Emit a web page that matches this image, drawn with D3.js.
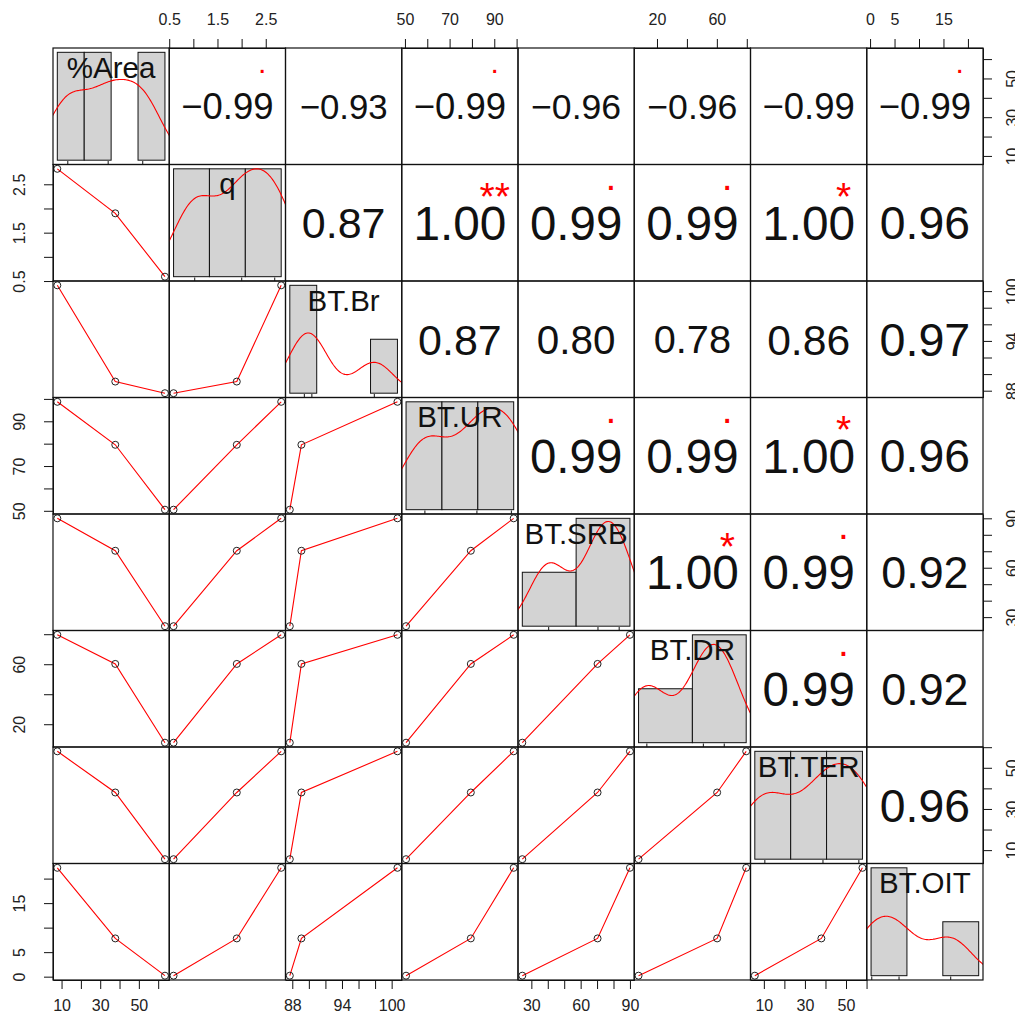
<!DOCTYPE html>
<html>
<head>
<meta charset="utf-8">
<script src="https://d3js.org/d3.v7.min.js"></script>
<style>
  body { margin: 0; background: #fff; }
</style>
</head>
<body>
<div id="my_dataviz"></div>
<script>
// variable names and the three observations of each
var varNames = ["%Area", "q", "BT.Br", "BT.UR", "BT.SRB", "BT.DR", "BT.TER", "BT.OIT"];
var pctArea = [63.5, 37.8, 7.8];
var q = [0.59, 1.9, 2.82];
var btBr = [87.7, 89.1, 100.7];
var btUR = [50.5, 79.5, 98.7];
var btSRB = [24.5, 70.3, 90];
var btDR = [7.7, 60.2, 79.6];
var btTER = [5.6, 38, 58];
var btOIT = [0.2, 7.8, 22.2];

// histogram breaks of the diagonal panels
var histBreaks = [[0, 20, 40, 60, 80], [0, 1, 2, 3], [85, 90, 95, 100, 105], [40, 60, 80, 100],
                  [0, 50, 100], [0, 50, 100], [0, 20, 40, 60], [0, 10, 20, 30]];

// axis ticks, and the ticks that get a label
var axisTicks = [[10, 20, 30, 40, 50, 60], [0.5, 1, 1.5, 2, 2.5], [88, 90, 92, 94, 96, 98, 100],
                 [50, 60, 70, 80, 90, 100], [30, 40, 50, 60, 70, 80, 90], [20, 40, 60, 80],
                 [10, 20, 30, 40, 50, 60], [0, 5, 10, 15, 20]];
var axisLabels = [[10, 30, 50], [0.5, 1.5, 2.5], [88, 94, 100], [50, 70, 90], [30, 60, 90],
                  [20, 60], [10, 30, 50], [0, 5, 15]];

// correlations shown in the upper panels (row by row) and their stars
var corText = [
  ["\u22120.99", "\u22120.93", "\u22120.99", "\u22120.96", "\u22120.96", "\u22120.99", "\u22120.99"],
  ["0.87", "1.00", "0.99", "0.99", "1.00", "0.96"],
  ["0.87", "0.80", "0.78", "0.86", "0.97"],
  ["0.99", "0.99", "1.00", "0.96"],
  ["1.00", "0.99", "0.92"],
  ["0.99", "0.92"],
  ["0.96"]
];
var corSig = [
  [".", "", ".", "", "", "", "."],
  ["", "**", ".", ".", "*", ""],
  ["", "", "", "", ""],
  [".", ".", "*", ""],
  ["*", ".", ""],
  [".", ""],
  [""]
];

var allVars = [pctArea, q, btBr, btUR, btSRB, btDR, btTER, btOIT];
var n = allVars.length;

// panel grid
var padL = 53, padT = 48, W = 116.25, H = 116.5;
var fontFam = "'Liberation Sans', Arial, Helvetica, sans-serif";

var svg = d3.select("#my_dataviz")
  .append("svg")
    .attr("width", 1015)
    .attr("height", 1020)
    .style("background", "#fff");

var defs = svg.append("defs");

// R-like scales: data range extended by 4% on each side
function ext(lo, hi) { var d = (hi - lo) * 0.04; return [lo - d, hi + d]; }

var xs = allVars.map(function(v, j) {
  return d3.scaleLinear().domain(ext(d3.min(v), d3.max(v))).range([padL + j * W, padL + (j + 1) * W]);
});
var ys = allVars.map(function(v, i) {
  return d3.scaleLinear().domain(ext(d3.min(v), d3.max(v))).range([padT + (i + 1) * H, padT + i * H]);
});

function measure(txt) {
  var t = svg.append("text").style("font-family", fontFam).style("font-size", "100px").text(txt);
  var l = t.node().getComputedTextLength();
  t.remove();
  return l;
}

for (var i = 0; i < n; i++) {
  for (var j = 0; j < n; j++) {
    var x0 = padL + j * W, y0 = padT + i * H;
    var g = svg.append("g");

    if (i > j) {
      // lower panels: points + smoother
      var pts = allVars[j].map(function(d, k) { return [xs[j](d), ys[i](allVars[i][k])]; })
        .sort(function(a, b) { return a[0] - b[0]; });
      g.append("path")
        .attr("d", d3.line()(pts))
        .attr("fill", "none")
        .attr("stroke", "red")
        .attr("stroke-width", 1.1);
      g.selectAll("circle").data(pts).enter().append("circle")
        .attr("cx", function(d) { return d[0]; })
        .attr("cy", function(d) { return d[1]; })
        .attr("r", 3.5)
        .attr("fill", "none")
        .attr("stroke", "#222")
        .attr("stroke-width", 1);
    } else if (i < j) {
      // upper panels: correlation text
      var txt = corText[i][j - i - 1];
      var r = Math.abs(+txt.replace("\u2212", "-"));
      var len = measure(txt);
      var fullSize = 100 * 0.8 * W / len;
      var fs = fullSize * (r + 0.3) / 1.3;
      g.append("text")
        .attr("x", x0 + W / 2)
        .attr("y", y0 + H / 2 + 0.358 * fs)
        .attr("text-anchor", "middle")
        .style("font-family", fontFam)
        .style("font-size", fs + "px")
        .attr("fill", "#111")
        .text(txt);
      var sig = corSig[i][j - i - 1];
      if (sig !== "") {
        var sfs = fullSize * 0.82;
        var off = sig === "." ? 0.05 : 0.575;
        g.append("text")
          .attr("x", x0 + 0.8 * W)
          .attr("y", y0 + 0.2 * H + off * sfs)
          .attr("text-anchor", "middle")
          .style("font-family", fontFam)
          .style("font-size", sfs + "px")
          .attr("fill", "red")
          .text(sig);
      }
    } else {
      // diagonal: histogram, density and rug
      var v = allVars[i], br = histBreaks[i];
      var bins = d3.pairs(br).map(function(p) {
        var c = v.filter(function(d) { return d >= p[0] && (d < p[1] || (p[1] === br[br.length - 1] && d <= p[1])); }).length;
        return { lo: p[0], hi: p[1], dens: c / (v.length * (p[1] - p[0])) };
      });
      var hx = d3.scaleLinear().domain(ext(br[0], br[br.length - 1])).range([x0, x0 + W]);
      var hy = d3.scaleLinear().domain(ext(0, d3.max(bins, function(d) { return d.dens; }))).range([y0 + H, y0]);

      g.selectAll("rect").data(bins).enter().append("rect")
        .attr("x", function(d) { return hx(d.lo); })
        .attr("y", function(d) { return hy(d.dens); })
        .attr("width", function(d) { return hx(d.hi) - hx(d.lo); })
        .attr("height", function(d) { return hy(0) - hy(d.dens); })
        .attr("fill", "#d3d3d3")
        .attr("stroke", "#111")
        .attr("stroke-width", 1);

      // gaussian kernel density, bandwidth as R's bw.nrd0
      var sorted = v.slice().sort(d3.ascending);
      var iqr = d3.quantile(sorted, 0.75) - d3.quantile(sorted, 0.25);
      var bw = 0.9 * Math.min(d3.deviation(v), iqr / 1.34) * Math.pow(v.length, -0.2);
      var dx = d3.range(0, 201).map(function(k) {
        return d3.min(v) - 3 * bw + k * (d3.max(v) - d3.min(v) + 6 * bw) / 200;
      });
      var dens = dx.map(function(xv) {
        return [hx(xv), hy(d3.mean(v, function(d) {
          var z = (xv - d) / bw;
          return Math.exp(-0.5 * z * z) / Math.sqrt(2 * Math.PI) / bw;
        }))];
      });
      defs.append("clipPath").attr("id", "clip" + i)
        .append("rect").attr("x", x0).attr("y", y0).attr("width", W).attr("height", H);
      g.append("path")
        .attr("d", d3.line()(dens))
        .attr("clip-path", "url(#clip" + i + ")")
        .attr("fill", "none")
        .attr("stroke", "red")
        .attr("stroke-width", 1.1);

      g.selectAll("line.rug").data(v).enter().append("line")
        .attr("x1", function(d) { return hx(d); })
        .attr("x2", function(d) { return hx(d); })
        .attr("y1", y0 + H)
        .attr("y2", y0 + H - 0.03 * H)
        .attr("stroke", "#111");

      g.append("text")
        .attr("x", x0 + W / 2)
        .attr("y", y0 + H / 6 + 0.358 * 29.5)
        .attr("text-anchor", "middle")
        .style("font-family", fontFam)
        .style("font-size", "29.5px")
        .attr("fill", "#111")
        .text(varNames[i]);
    }

    // panel frame
    svg.append("rect")
      .attr("x", x0).attr("y", y0).attr("width", W).attr("height", H)
      .attr("fill", "none").attr("stroke", "#111").attr("stroke-width", 1.2);
  }
}

// axes alternate between the sides
function styleAxis(a) {
  a.attr("font-family", null).attr("font-size", null);
  a.selectAll("line").attr("stroke", "#111");
  a.select(".domain").attr("stroke", "#111");
  a.selectAll("text").style("font-family", fontFam).style("font-size", "16px").attr("fill", "#222");
}
function fmtFor(k) {
  return function(d) { return axisLabels[k].indexOf(d) >= 0 ? String(d) : ""; };
}

for (var k = 0; k < n; k++) {
  if (k % 2 === 1) {
    var a = svg.append("g").attr("transform", "translate(0," + padT + ")")
      .call(d3.axisTop(xs[k]).tickValues(axisTicks[k]).tickSize(9).tickSizeOuter(0).tickFormat(fmtFor(k)));
    styleAxis(a);
    a.selectAll(".tick text").attr("y", -23).attr("dy", null);
    var b = svg.append("g").attr("transform", "translate(" + padL + ",0)")
      .call(d3.axisLeft(ys[k]).tickValues(axisTicks[k]).tickSize(9).tickSizeOuter(0).tickFormat(fmtFor(k)));
    styleAxis(b);
    b.selectAll(".tick text").attr("x", null).attr("dy", null)
      .attr("text-anchor", "middle").attr("transform", "translate(-28,0) rotate(-90)");
  } else {
    var a2 = svg.append("g").attr("transform", "translate(0," + (padT + n * H) + ")")
      .call(d3.axisBottom(xs[k]).tickValues(axisTicks[k]).tickSize(9).tickSizeOuter(0).tickFormat(fmtFor(k)));
    styleAxis(a2);
    a2.selectAll(".tick text").attr("y", 31).attr("dy", null);
    var b2 = svg.append("g").attr("transform", "translate(" + (padL + n * W) + ",0)")
      .call(d3.axisRight(ys[k]).tickValues(axisTicks[k]).tickSize(9).tickSizeOuter(0).tickFormat(fmtFor(k)));
    styleAxis(b2);
    b2.selectAll(".tick text").attr("x", null).attr("dy", null)
      .attr("text-anchor", "middle").attr("transform", "translate(35,0) rotate(-90)");
  }
}
</script>
</body>
</html>
